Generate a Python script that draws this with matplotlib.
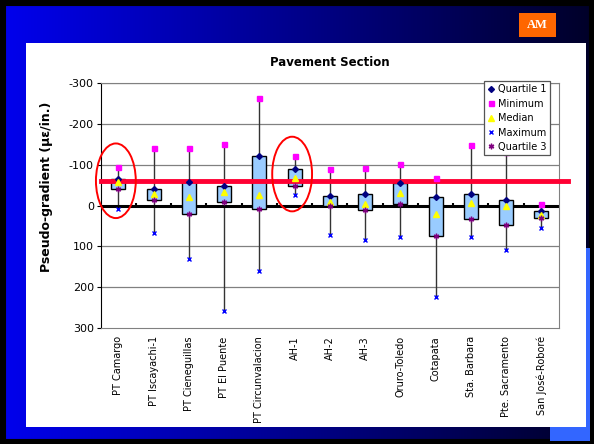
import numpy as np
import matplotlib
matplotlib.use('Agg')
import matplotlib.pyplot as plt
from matplotlib.patches import Rectangle, Ellipse, Arc

# data (pseudo-gradient, microstrain/in.)
sections = ['PT Camargo', 'PT Iscayachi-1', 'PT Cieneguillas', 'PT El Puente',
            'PT Circunvalacion', 'AH-1', 'AH-2', 'AH-3', 'Oruro-Toledo',
            'Cotapata', 'Sta. Barbara', 'Pte. Sacramento', 'San José-Roboré']
minimum   = [-95, -142, -141, -150, -264, -121, -89, -92, -101, -69, -148, -131, -5]
quartile1 = [-66, -42, -58, -48, -121, -90, -24, -28, -56, -20, -29, -15, 12]
median    = [-58, -28, -20, -33, -25, -69, -9, -3, -32, 21, -7, 1, 23]
quartile3 = [-40, -14, 20, -9, 7, -49, 1, 10, -5, 75, 33, 47, 31]
maximum   = [9, 68, 132, 259, 160, -25, 73, 85, 78, 225, 76, 108, 55]
threshold = -61
circled = [0, 5]

W, H = 594, 444
fig = plt.figure(figsize=(W / 100, H / 100), dpi=100)

# slide background
bg = fig.add_axes([0, 0, 1, 1])
bg.set_xlim(0, W)
bg.set_ylim(H, 0)
bg.axis('off')
grad = np.linspace(0, 1, 256)
c0 = np.array([0, 0, 238]) / 255.0
c1 = np.array([0, 0, 40]) / 255.0
img = (c0[None, :] * (1 - grad[:, None]) + c1[None, :] * grad[:, None])[None, :, :]
bg.imshow(img, extent=[0, W, H, 0], aspect='auto')
bg.add_patch(Rectangle((0, 0), W, H, fill=False, ec='black', lw=8))
bg.add_patch(Rectangle((550, 427), 40, 14, fc='#3366FF', ec='none'))
bg.add_patch(Rectangle((586, 248), 4, 193, fc='#3366FF', ec='none'))
bg.add_patch(Arc((330, 700), 900, 1400, theta1=100, theta2=122, color='#5b86ff', lw=0.8))
bg.add_patch(Rectangle((26, 43), 560, 384, fc='white', ec='none'))
bg.add_patch(Rectangle((519, 13), 37, 24, fc='#FF6600', ec='none'))
bg.text(537.5, 25, 'AM', color='white', fontsize=9, fontweight='bold',
        family='Liberation Serif', ha='center', va='center')

ax = fig.add_axes([100.7 / W, 1 - 328 / H, (559 - 100.7) / W, (328 - 83.3) / H])
ax.set_facecolor('white')
x = np.arange(len(sections))

ax.set_ylim(300, -300)
ax.set_xlim(-0.5, len(sections) - 0.5)
ax.set_yticks([-300, -200, -100, 0, 100, 200, 300])
ax.set_yticklabels(['-300', '-200', '-100', '0', '100', '200', '300'], fontsize=8)
for yv in [-300, -200, -100, 100, 200]:
    ax.axhline(yv, color='#808080', lw=0.9, zorder=1)

ax.set_xticks(x)
ax.set_xticklabels(sections, rotation=90, fontsize=7)
ax.tick_params(axis='x', length=0, pad=6)
ax.tick_params(axis='y', length=3, width=0.8, pad=2, color='black')
for s in ['top', 'right', 'bottom']:
    ax.spines[s].set_color('#808080')
ax.spines['left'].set_color('black')

# whiskers and boxes
ax.vlines(x, minimum, maximum, color='#333333', lw=1, zorder=2)
for i in range(len(sections)):
    ax.add_patch(Rectangle((x[i] - 0.2, quartile1[i]), 0.4, quartile3[i] - quartile1[i],
                           fc='#99CCFF', ec='black', lw=1, zorder=3))

# zero axis with category ticks
ax.axhline(0, color='black', lw=2.2, zorder=2.5)
ax.vlines(np.arange(0.5, len(sections) - 0.5), 0, -7, color='black', lw=1.5, zorder=2.5)

ax.plot(x, quartile1, 'D', color='#000080', ms=3, zorder=5, label='Quartile 1')
ax.plot(x, minimum, 's', color='#FF00FF', ms=3.6, zorder=5, label='Minimum')
ax.plot(x, median, '^', color='#FFFF00', ms=4.2, zorder=5, label='Median')
ax.plot(x, maximum, 'x', color='#0000FF', ms=3.5, mew=1, zorder=5, label='Maximum')
ax.plot(x, quartile3, marker=(6, 2, 0), ls='none', color='#800080', ms=4, mew=1,
        zorder=5, label='Quartile 3')

# threshold line and highlighted sections
ax.axhline(threshold, xmin=0, xmax=1.02, color='#FF0033', lw=3.5, zorder=4, clip_on=False)
for i in circled:
    ax.add_patch(Ellipse((x[i] - 0.07, (quartile1[i] + quartile3[i]) / 2 - 8), 1.13, 183,
                         fill=False, ec='#FF0000', lw=1.4, zorder=6, clip_on=False))

leg = ax.legend(loc='upper left', bbox_to_anchor=(484 / W, 1 - 81 / H),
                bbox_transform=fig.transFigure, fontsize=7, frameon=True, fancybox=False,
                framealpha=1, borderpad=0.35, labelspacing=0.45, handlelength=0.7,
                handletextpad=0.4, borderaxespad=0)
leg.get_frame().set_edgecolor('#555555')
leg.get_frame().set_linewidth(0.9)
leg.set_zorder(10)

fig.text(330 / W, 1 - 62 / H, 'Pavement Section', fontsize=8.5, fontweight='bold',
         ha='center', va='center')
fig.text(47 / W, 1 - 187 / H, 'Pseudo-gradient (µε/in.)', fontsize=9, fontweight='bold',
         rotation=90, ha='center', va='center')

fig.savefig('out.png', dpi=100)
